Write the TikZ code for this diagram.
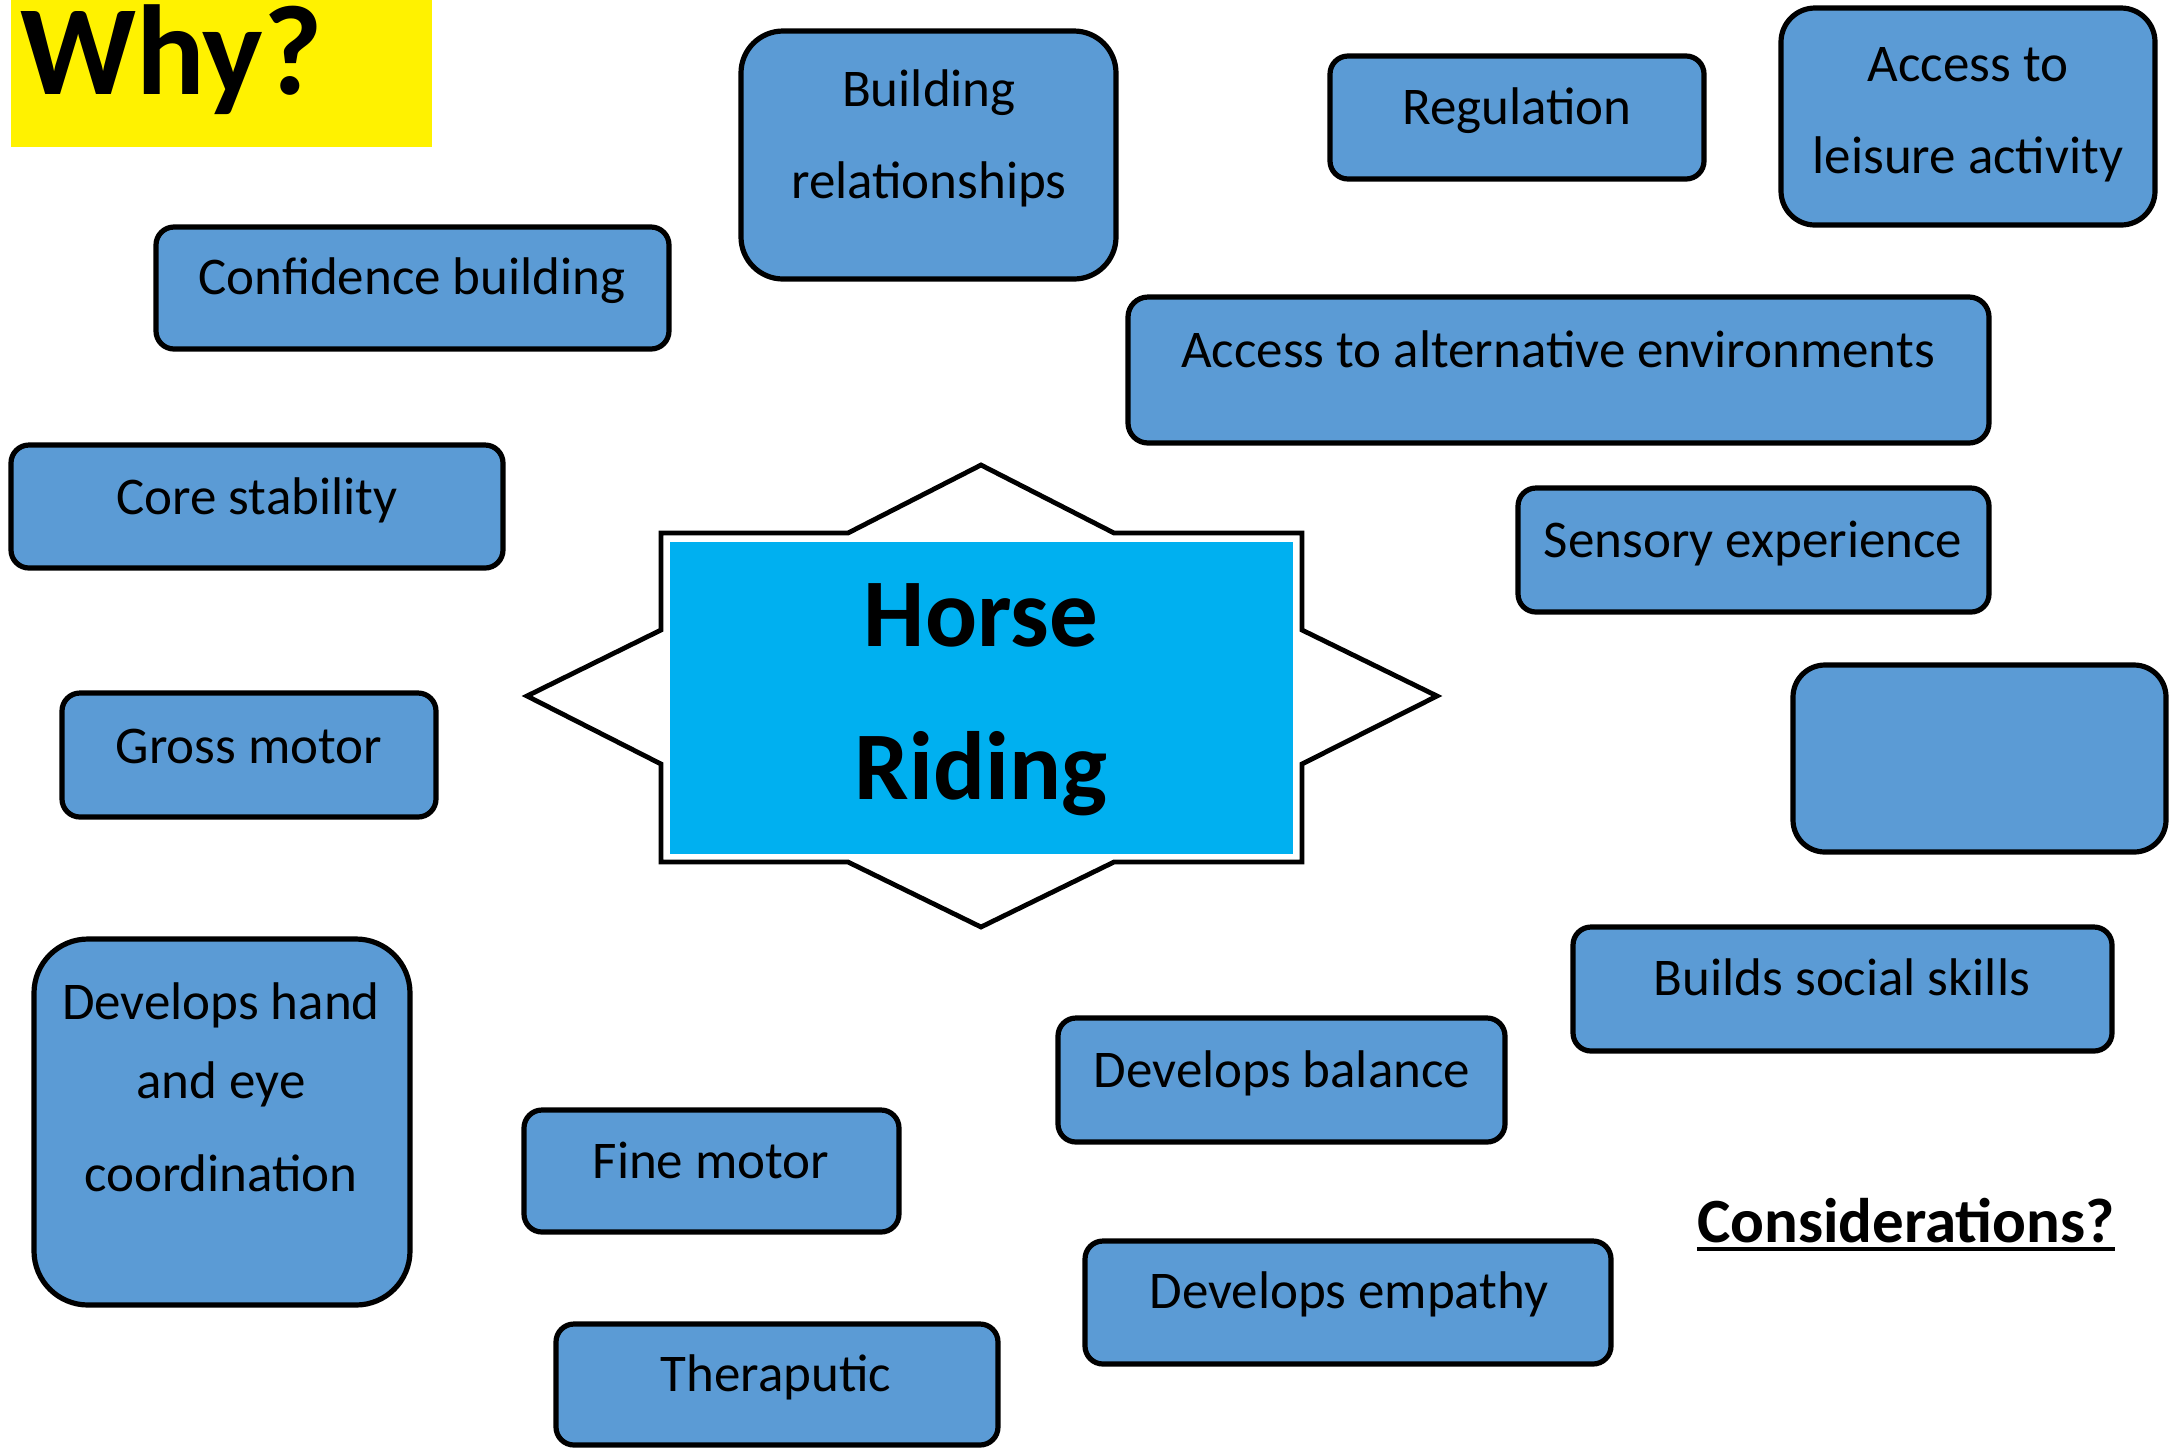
\documentclass[tikz,border=0pt]{standalone}
\usepackage{fontspec}
\setmainfont{Carlito}
\usetikzlibrary{fit}
\definecolor{boxblue}{HTML}{5B9BD5}
\definecolor{cyanfill}{HTML}{00B0F0}
\begin{document}
\begin{tikzpicture}[x=0.5pt,y=-0.5pt,
  box/.style={draw=black, line width=2.6pt, fill=boxblue, inner sep=0pt, rounded corners=9pt},
  lbl/.style={font=\fontsize{26.5}{32}\selectfont, anchor=base, inner sep=0pt},
  bigl/.style={font=\fontsize{48.5}{56}\selectfont\bfseries, anchor=base, inner sep=0pt}]
\useasboundingbox (0,0) rectangle (2170,1448);
% title
\node[fill=yellow, inner sep=0pt, fit={(11,0) (432,147)}] (whybg) {};
\node[font=\fontsize{64}{70}\selectfont\bfseries, anchor=base west, inner sep=0pt] (why) at (20,94) {Why?};
% boxes
\node[box, rounded corners=21pt, fit={(741,31) (1116,279)}] (b1) {};
\node[box, fit={(1330,56) (1704,179)}] (b2) {};
\node[box, rounded corners=17pt, fit={(1781,8) (2155,225)}] (b3) {};
\node[box, fit={(156,227) (669,349)}] (b4) {};
\node[box, rounded corners=10pt, fit={(1128,297) (1989,443)}] (b5) {};
\node[box, fit={(11,445) (503,568)}] (b6) {};
\node[box, fit={(1518,488) (1989,612)}] (b7) {};
\node[box, rounded corners=16pt, fit={(1793,665) (2166,852)}] (b8) {};
\node[box, fit={(62,693) (436,817)}] (b9) {};
\node[box, rounded corners=27pt, fit={(34,939) (410,1305)}] (b10) {};
\node[box, fit={(1573,927) (2112,1051)}] (b11) {};
\node[box, fit={(1058,1018) (1505,1142)}] (b12) {};
\node[box, fit={(524,1110) (899,1232)}] (b13) {};
\node[box, fit={(1085,1241) (1611,1364)}] (b14) {};
\node[box, fit={(556,1324) (998,1445)}] (b15) {};
% star
\draw[line width=2.4pt, fill=white, line join=miter]
  (981,465) -- (1114,533) -- (1302,533) -- (1302,630) -- (1437,696) -- (1302,764)
  -- (1302,862) -- (1114,862) -- (981,927) -- (848,862) -- (661,862) -- (661,764)
  -- (527,696) -- (661,630) -- (661,533) -- (848,533) -- cycle;
\node[fill=cyanfill, inner sep=0pt, fit={(670,542) (1293,854)}] (hub) {};
\node[bigl] (horse) at (981,646) {Horse};
\node[bigl] (riding) at (981,799) {Riding};
% labels
\node[lbl] (t1a) at (929,106) {Building};
\node[lbl] (t1b) at (929,198) {relationships};
\node[lbl] (t2) at (1517,124) {Regulation};
\node[lbl] (t3a) at (1968,81) {Access to};
\node[lbl] (t3b) at (1968,173) {leisure activity};
\node[lbl] (t4) at (412,294) {Confidence building};
\node[lbl] (t5) at (1558,367) {Access to alternative environments};
\node[lbl] (t6) at (257,514) {Core stability};
\node[lbl] (t7) at (1753,557) {Sensory experience};
\node[lbl] (t9) at (249,763) {Gross motor};
\node[lbl] (t10a) at (221,1019) {Develops hand};
\node[lbl] (t10b) at (221,1098) {and eye};
\node[lbl] (t10c) at (221,1191) {coordination};
\node[lbl] (t11) at (1842,995) {Builds social skills};
\node[lbl] (t12) at (1282,1087) {Develops balance};
\node[lbl] (t13) at (711,1178) {Fine motor};
\node[lbl] (t14) at (1349,1308) {Develops empathy};
\node[lbl] (t15) at (776,1391) {Theraputic};
\node[font=\fontsize{31.5}{36}\selectfont\bfseries, anchor=base, inner sep=0pt] (cons) at (1906,1242) {Considerations?};
\draw[line width=2pt] ([yshift=-3.5pt]cons.base west) -- ([yshift=-3.5pt]cons.base east);
\end{tikzpicture}
\end{document}
